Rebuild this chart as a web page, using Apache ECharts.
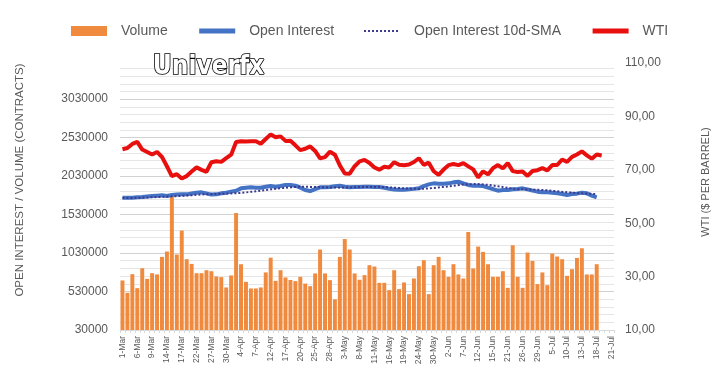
<!DOCTYPE html>
<html>
<head>
<meta charset="utf-8">
<script src="https://cdn.jsdelivr.net/npm/echarts@6/dist/echarts.min.js"></script>
<style>
html,body{margin:0;padding:0;background:#fff;}
#chart{width:723px;height:387px;}
</style>
</head>
<body>
<div id="chart"></div>
<script>
// Categories (trading days, 2023)
const dates = [
 '1-Mar','2-Mar','3-Mar','6-Mar','7-Mar','8-Mar','9-Mar','10-Mar','13-Mar','14-Mar',
 '15-Mar','16-Mar','17-Mar','20-Mar','21-Mar','22-Mar','23-Mar','24-Mar','27-Mar','28-Mar',
 '29-Mar','30-Mar','31-Mar','3-Apr','4-Apr','5-Apr','6-Apr','7-Apr','10-Apr','11-Apr',
 '12-Apr','13-Apr','14-Apr','17-Apr','18-Apr','19-Apr','20-Apr','21-Apr','24-Apr','25-Apr',
 '26-Apr','27-Apr','28-Apr','1-May','2-May','3-May','4-May','5-May','8-May','9-May',
 '10-May','11-May','12-May','15-May','16-May','17-May','18-May','19-May','22-May','23-May',
 '24-May','25-May','26-May','30-May','31-May','1-Jun','2-Jun','5-Jun','6-Jun','7-Jun',
 '8-Jun','9-Jun','12-Jun','13-Jun','14-Jun','15-Jun','16-Jun','20-Jun','21-Jun','22-Jun',
 '23-Jun','26-Jun','27-Jun','28-Jun','29-Jun','30-Jun','3-Jul','5-Jul','6-Jul','7-Jul',
 '10-Jul','11-Jul','12-Jul','13-Jul','14-Jul','17-Jul','18-Jul','19-Jul','20-Jul','21-Jul'
];

// Volume (contracts)
const volume = [
 674000,513000,756000,574000,833000,695000,768000,752000,980000,1050000,
 1757000,1011000,1322000,950000,889000,768000,768000,807000,794000,726000,
 717000,583000,739000,1550000,885000,656000,570000,570000,583000,778000,
 970000,669000,807000,713000,680000,665000,721000,633000,600000,765000,
 1076000,765000,678000,428000,980000,1212000,1076000,765000,683000,743000,
 872000,855000,643000,643000,548000,807000,561000,648000,496000,700000,
 859000,937000,496000,872000,980000,807000,721000,885000,752000,700000,
 1304000,829000,1114000,1045000,885000,721000,721000,794000,578000,1131000,
 721000,578000,1037000,928000,626000,778000,613000,1024000,985000,950000,
 734000,820000,967000,1092000,752000,752000,885000
];

// Open interest (contracts)
const openInterest = [
 1749000,1749000,1749000,1754000,1758000,1765000,1771000,1776000,1780000,1771000,
 1784000,1790000,1793000,1793000,1805000,1815000,1819000,1806000,1790000,1793000,
 1806000,1815000,1828000,1840000,1871000,1879000,1884000,1879000,1879000,1892000,
 1901000,1892000,1901000,1914000,1914000,1905000,1879000,1849000,1836000,1862000,
 1884000,1884000,1888000,1897000,1905000,1892000,1884000,1887000,1890000,1892000,
 1892000,1890000,1888000,1879000,1864000,1856000,1854000,1854000,1858000,1864000,
 1871000,1901000,1923000,1936000,1932000,1932000,1936000,1949000,1958000,1935000,
 1915000,1905000,1905000,1900000,1880000,1862000,1841000,1849000,1849000,1858000,
 1862000,1871000,1858000,1841000,1828000,1819000,1819000,1815000,1806000,1797000,
 1784000,1797000,1802000,1815000,1806000,1776000,1754000
];

// Open interest 10-day SMA (contracts)
const openInterestSMA = [
 1745000,1746000,1747000,1748000,1750000,1752000,1755000,1758000,1761000,1764000,
 1767000,1770000,1774000,1778000,1782000,1787000,1791000,1794000,1796000,1798000,
 1800000,1802000,1805000,1808000,1812000,1818000,1826000,1834000,1842000,1850000,
 1858000,1865000,1872000,1878000,1884000,1889000,1892000,1892000,1890000,1888000,
 1886000,1884000,1882000,1881000,1880000,1881000,1883000,1886000,1889000,1890000,
 1890000,1889000,1888000,1886000,1884000,1880000,1876000,1872000,1868000,1865000,
 1864000,1866000,1870000,1876000,1883000,1890000,1897000,1905000,1913000,1920000,
 1924000,1926000,1926000,1922000,1916000,1908000,1898000,1888000,1878000,1868000,
 1862000,1858000,1856000,1855000,1853000,1850000,1845000,1839000,1833000,1826000,
 1820000,1815000,1810000,1806000,1803000,1800000,1796000
];

// WTI ($ per barrel)
const wti = [
 77.69,78.16,79.68,80.46,77.58,76.66,75.72,76.68,74.80,71.33,
 67.61,68.35,66.74,67.64,69.33,70.90,69.96,69.26,72.81,73.20,
 72.97,74.37,75.67,80.42,80.71,80.61,80.70,80.70,79.74,81.53,
 83.26,82.16,82.52,80.83,80.86,79.16,77.37,77.87,78.76,77.07,
 74.30,74.76,76.78,75.66,71.66,68.60,68.56,71.34,73.16,73.71,
 72.56,70.87,70.04,71.11,70.86,72.83,71.86,71.69,71.99,72.91,
 74.34,71.83,72.67,69.46,68.09,70.10,71.74,72.15,71.74,72.53,
 71.29,70.17,67.12,69.42,68.27,70.62,71.78,70.50,72.53,69.51,
 69.16,69.37,67.70,69.56,69.86,70.64,69.79,71.79,71.80,73.86,
 72.99,74.83,75.75,76.89,75.42,74.15,75.75,75.35
];

const legendNames = ['Volume','Open Interest','Open Interest 10d-SMA','WTI'];
const leftTickLabels = ['30000','530000','1030000','1530000','2030000','2530000','3030000'];

const chart = echarts.init(document.getElementById('chart'), null, {renderer:'canvas'});
const FONT = 'Liberation Sans';
const GREY = '#595959';

chart.setOption({
  animation: false,
  backgroundColor: '#ffffff',
  textStyle: {fontFamily: FONT},
  grid: {left: 120, right: 109, top: 63, bottom: 57, containLabel: false},
  legend: {
    left: 66, top: 19, itemWidth: 36, itemHeight: 10, itemGap: 29,
    textStyle: {fontSize: 14, color: GREY, fontFamily: FONT, padding: [0,0,0,9]},
    data: [
      {name: legendNames[0], icon: 'rect'},
      {name: legendNames[1], itemStyle: {opacity: 0}, lineStyle: {width: 5}},
      {name: legendNames[2], itemStyle: {opacity: 0}, lineStyle: {width: 2}},
      {name: legendNames[3], itemStyle: {opacity: 0}, lineStyle: {width: 5}}
    ]
  },
  graphic: [
    {type:'text', left: 152, top: 53, z: 100,
     style:{text:'Univerfx', font:'bold 26px "DejaVu Sans Condensed", "DejaVu Sans"', fill:'#ffffff', stroke:'#000000', lineWidth:1.6}},
    {type:'text', x: 20, y: 180, rotation: Math.PI/2,
     style:{text:'OPEN INTEREST / VOLUME (CONTRACTS)', font:'11.5px "Liberation Sans"', fill:GREY, textAlign:'center', textVerticalAlign:'middle'}},
    {type:'text', x: 706, y: 182, rotation: Math.PI/2,
     style:{text:'WTI ($ PER BARREL)', font:'11px "Liberation Sans"', fill:GREY, textAlign:'center', textVerticalAlign:'middle'}}
  ],
  xAxis: {
    type: 'category', data: dates, boundaryGap: true,
    axisLine: {show: true, lineStyle: {color: '#d9d9d9', width: 1}},
    axisTick: {show: true, interval: 0, length: 3, lineStyle: {color: '#d9d9d9'}},
    axisLabel: {interval: 2, rotate: 90, fontSize: 8.5, color: GREY, margin: 6, fontFamily: FONT},
    splitLine: {show: false}
  },
  yAxis: [
    {
      type: 'value', min: 30000, max: 3500000, interval: 100000, position: 'left',
      axisLine: {show: false}, axisTick: {show: false},
      axisLabel: {
        fontSize: 12, color: GREY, margin: 12, fontFamily: FONT,
        formatter: function (v) { const s = String(Math.round(v)); return leftTickLabels.indexOf(s) >= 0 ? s : ''; }
      },
      splitLine: {show: true, showMaxLine: false,
        lineStyle: {color: ['#d2d2d2','#e6e6e6','#e6e6e6','#e6e6e6','#e6e6e6'], width: 1}}
    },
    {
      type: 'value', min: 10, max: 110, interval: 20, position: 'right',
      axisLine: {show: false}, axisTick: {show: false},
      axisLabel: {fontSize: 12, color: GREY, margin: 11, fontFamily: FONT,
        formatter: function (v) { return v.toFixed(2).replace('.', ','); }},
      splitLine: {show: false}
    }
  ],
  series: [
    {name: 'Volume', type: 'bar', yAxisIndex: 0, data: volume,
     barCategoryGap: '20%', itemStyle: {color: '#F08A3E'}, z: 1},
    {name: 'Open Interest', type: 'line', yAxisIndex: 0, data: openInterest,
     symbol: 'none', lineStyle: {color: '#4472C4', width: 4}, itemStyle: {color: '#4472C4'}, z: 3},
    {name: 'Open Interest 10d-SMA', type: 'line', yAxisIndex: 0, data: openInterestSMA,
     symbol: 'none', lineStyle: {color: '#3B3B8E', width: 2, type: 'dotted'}, itemStyle: {color: '#3B3B8E'}, z: 4},
    {name: 'WTI', type: 'line', yAxisIndex: 1, data: wti,
     symbol: 'none', lineStyle: {color: '#E8100F', width: 4}, itemStyle: {color: '#E8100F'}, z: 5}
  ]
});
</script>
</body>
</html>
